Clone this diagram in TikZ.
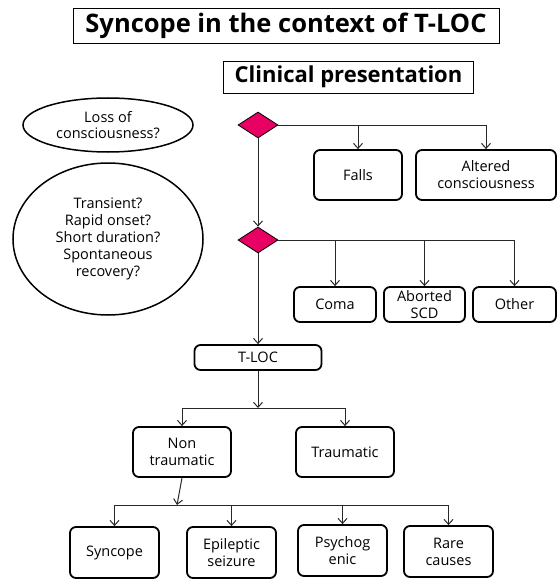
\documentclass[tikz,border=0pt]{standalone}
\usepackage{fontspec}
\setmainfont{Open Sans}
\usetikzlibrary{shapes.geometric,arrows.meta}
\definecolor{dmd}{RGB}{232,0,98}
\definecolor{ln}{RGB}{40,40,40}
\tikzset{
  box/.style={draw,line width=1.8pt,rounded corners=6pt,align=center,inner sep=0pt,font=\fontsize{14.5}{17}\selectfont},
  tbox/.style={draw,line width=0.9pt,inner sep=0pt,font=\fontsize{25.5}{28}\bfseries\selectfont},
  oval/.style={draw,line width=1.5pt,ellipse,align=center,inner sep=0pt,font=\fontsize{14.5}{16.8}\selectfont},
  dmdnode/.style={diamond,draw,line width=0.8pt,fill=dmd,inner sep=0pt,minimum width=40pt,minimum height=26pt},
  conn/.style={line width=1pt,draw=ln},
  arr/.style={conn,-{Straight Barb[length=5pt,width=9pt]}}
}
\begin{document}
\begin{tikzpicture}[x=1pt,y=-1pt]
\useasboundingbox (0,0) rectangle (558,583);
% titles
\node[tbox,minimum width=426pt,minimum height=35pt] (title) at (286,26) {Syncope in the context of T-LOC};
\node[tbox,minimum width=250pt,minimum height=32pt,font=\fontsize{22}{24}\bfseries\selectfont] (clin) at (348.5,77) {Clinical presentation};
% ellipses
\node[oval,minimum width=170pt,minimum height=54pt] (loc) at (108,125) {Loss of\\consciousness?};
\node[oval,minimum width=190pt,minimum height=152pt] (qs) at (108,239) {Transient?\\Rapid onset?\\Short duration?\\Spontaneous\\recovery?};
% diamonds
\node[dmdnode] (d1) at (258,125) {};
\node[dmdnode] (d2) at (258,240) {};
% boxes
\node[box,minimum width=88pt,minimum height=50pt] (falls) at (358,175) {Falls};
\node[box,minimum width=140pt,minimum height=50pt] (alt) at (486,175) {Altered\\consciousness};
\node[box,minimum width=82pt,minimum height=35pt] (coma) at (335,304.5) {Coma};
\node[box,minimum width=81pt,minimum height=35pt] (abort) at (424.5,304.5) {Aborted\\SCD};
\node[box,minimum width=83pt,minimum height=35pt] (other) at (514.5,304.5) {Other};
\node[box,minimum width=127pt,minimum height=25pt] (tloc) at (258,357.5) {T-LOC};
\node[box,minimum width=98pt,minimum height=50pt] (nt) at (182,452) {Non\\traumatic};
\node[box,minimum width=98pt,minimum height=50pt] (tr) at (345,452) {Traumatic};
\node[box,minimum width=89pt,minimum height=51pt] (syn) at (114.5,552.5) {Syncope};
\node[box,minimum width=89pt,minimum height=51pt] (epi) at (231.5,552.5) {Epileptic\\seizure};
\node[box,minimum width=89pt,minimum height=51pt] (psy) at (342.5,550.5) {Psychog\\enic};
\node[box,minimum width=89pt,minimum height=51pt] (rare) at (448.5,551.5) {Rare\\causes};
% connectors, first diamond
\draw[conn] (d1.east) -- (alt.north |- d1.east);
\draw[arr] (alt.north |- d1.east) -- (alt.north);
\draw[arr] (falls.north |- d1.east) -- (falls.north);
\draw[arr] (d1.south) -- (d2.north);
% second diamond
\draw[conn] (d2.east) -- (other.north |- d2.east);
\draw[arr] (other.north |- d2.east) -- (other.north);
\draw[arr] (abort.north |- d2.east) -- (abort.north);
\draw[arr] (coma.north |- d2.east) -- (coma.north);
\draw[arr] (d2.south) -- (tloc.north);
% T-LOC branch
\coordinate (b1) at (258,408);
\draw[arr] (tloc.south) -- (b1);
\draw[conn] (nt.north |- b1) -- (tr.north |- b1);
\draw[arr] (nt.north |- b1) -- (nt.north);
\draw[arr] (tr.north |- b1) -- (tr.north);
% non traumatic branch
\coordinate (b2) at (177,505);
\draw[arr] (nt.south) -- (b2);
\draw[conn] (syn.north |- b2) -- (rare.north |- b2);
\draw[arr] (syn.north |- b2) -- (syn.north);
\draw[arr] (epi.north |- b2) -- (epi.north);
\draw[arr] (psy.north |- b2) -- (psy.north);
\draw[arr] (rare.north |- b2) -- (rare.north);
\end{tikzpicture}
\end{document}
